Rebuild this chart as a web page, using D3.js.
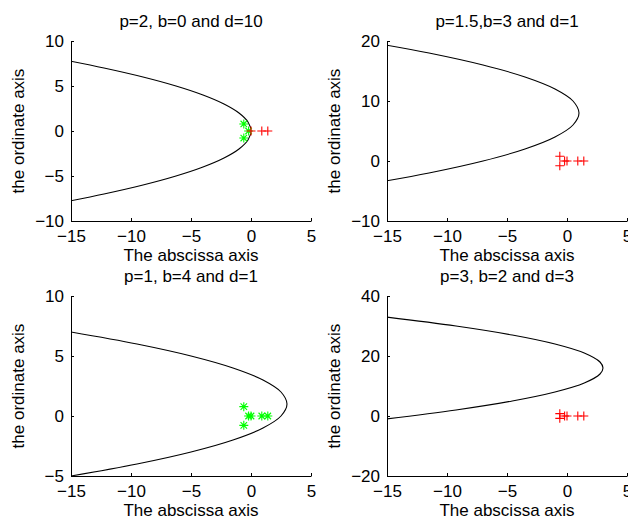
<!DOCTYPE html>
<html>
<head>
<meta charset="utf-8">
<script src="https://cdn.jsdelivr.net/npm/d3@7"></script>
<style>
  html, body { margin: 0; padding: 0; background: #fff; }
  svg { display: block; }
  text { font-family: "Liberation Sans", Arial, Helvetica, sans-serif; fill: #000; }
</style>
</head>
<body>
<svg id="chart" width="628" height="523"></svg>
<script>
// Panel titles
const titles = ["p=2, b=0 and d=10", "p=1.5,b=3 and d=1", "p=1, b=4 and d=1", "p=3, b=2 and d=3"];

// Axis limits and tick values per panel
const xDomain = [-15, 5];
const xTicks = [-15, -10, -5, 0, 5];
const yDomains = [[-10, 10], [-10, 20], [-5, 10], [-20, 40]];
const yTicks = [[-10, -5, 0, 5, 10], [-10, 0, 10, 20], [-5, 0, 5, 10], [-20, 0, 20, 40]];

// Boundary curve of each panel, as (x, y) points ordered along the curve
const curveX1 = [-15, -12.25, -9, -6.25, -4, -2.25, -1, -0.25, 0, -0.25, -1, -2.25, -4, -6.25, -9, -12.25, -15];
const curveY1 = [7.75, 7, 6, 5, 4, 3, 2, 1, 0, -1, -2, -3, -4, -5, -6, -7, -7.75];
const curveX2 = [-15, -11.5, -7, -3.5, -1, 0.5, 1, 0.5, -1, -3.5, -7, -11.5, -15];
const curveY2 = [19.3, 18, 16, 14, 12, 10, 8, 6, 4, 2, 0, -2, -3.3];
const curveX3 = [-15, -9.5, -5, -1.5, 1, 2.5, 3, 2.5, 1, -1.5, -5, -9.5, -15];
const curveY3 = [7, 6, 5, 4, 3, 2, 1, 0, -1, -2, -3, -4, -5];
const curveX4 = [-15.06, -9.25, -4.56, -1, 1.44, 2.75, 3, 2.75, 1.44, -1, -4.56, -9.25, -15.06];
const curveY4 = [33, 30, 27, 24, 21, 18, 16, 14, 11, 8, 5, 2, -1];
const curvesX = [curveX1, curveX2, curveX3, curveX4];
const curvesY = [curveY1, curveY2, curveY3, curveY4];

// Points plotted in every panel
const ptX = [-0.6, -0.6, -0.2, 0, 0.9, 1.4];
const ptY = [0.78, -0.78, 0, 0, 0, 0];
// Marker kind for each point, per panel: "star" (green) or "plus" (red)
const kinds1 = ["star", "star", "star", "plus", "plus", "plus"];
const kinds2 = ["plus", "plus", "plus", "plus", "plus", "plus"];
const kinds3 = ["star", "star", "star", "star", "star", "star"];
const kinds4 = ["plus", "plus", "plus", "plus", "plus", "plus"];
const kinds = [kinds1, kinds2, kinds3, kinds4];

const xLabel = "The abscissa axis";
const yLabel = "the ordinate axis";

// Layout
const panelW = 240, panelH = 180;
const lefts = [71, 387, 71, 387];
const tops = [41, 41, 296, 296];
const tickLen = 3;
const fontSize = 17;

const svg = d3.select("#chart");

function minus(v) { return v < 0 ? "\u2212" + Math.abs(v) : String(v); }

for (let i = 0; i < 4; i++) {
  const g = svg.append("g").attr("transform", `translate(${lefts[i]},${tops[i]})`);
  const x = d3.scaleLinear().domain(xDomain).range([0, panelW]);
  const y = d3.scaleLinear().domain(yDomains[i]).range([panelH, 0]);

  const clipId = "clip" + i;
  g.append("clipPath").attr("id", clipId)
    .append("rect").attr("x", 0).attr("y", 0).attr("width", panelW).attr("height", panelH);

  // x axis (ticks pointing inward)
  const xa = g.append("g").attr("transform", `translate(0,${panelH})`)
    .call(d3.axisBottom(x).tickValues(xTicks).tickSizeInner(-tickLen).tickSizeOuter(0).tickFormat(minus));
  // y axis (ticks pointing inward)
  const ya = g.append("g")
    .call(d3.axisLeft(y).tickValues(yTicks[i]).tickSizeInner(-tickLen).tickSizeOuter(0).tickFormat(minus));
  [xa, ya].forEach(a => {
    a.selectAll("text").style("font-size", fontSize + "px").style("font-family", '"Liberation Sans", Arial, sans-serif').attr("fill", "#000");
    a.selectAll("line").attr("stroke", "#000");
    a.select(".domain").attr("stroke", "#000");
  });
  xa.selectAll("text").attr("y", 9).attr("dy", "0.71em");
  ya.selectAll("text").attr("x", -7).attr("dy", "0.34em");

  // boundary curve
  const pts = curvesX[i].map((cx, k) => [cx, curvesY[i][k]]);
  g.append("path")
    .attr("clip-path", `url(#${clipId})`)
    .attr("d", d3.line().x(d => x(d[0])).y(d => y(d[1])).curve(d3.curveCatmullRom.alpha(0.5))(pts))
    .attr("fill", "none").attr("stroke", "#000").attr("stroke-width", 1.1);

  // point markers
  const mg = g.append("g");
  ptX.forEach((px, k) => {
    const cx = x(px), cy = y(ptY[k]);
    const kind = kinds[i][k];
    const r = 4.5;
    if (kind === "plus") {
      mg.append("path")
        .attr("d", `M${cx - r},${cy}H${cx + r}M${cx},${cy - r}V${cy + r}`)
        .attr("stroke", "#ff0000").attr("stroke-width", 1.1).attr("fill", "none");
    } else {
      const s = r * 0.72;
      mg.append("path")
        .attr("d", `M${cx - r},${cy}H${cx + r}M${cx},${cy - r}V${cy + r}M${cx - s},${cy - s}L${cx + s},${cy + s}M${cx - s},${cy + s}L${cx + s},${cy - s}`)
        .attr("stroke", "#00ff00").attr("stroke-width", 1.1).attr("fill", "none");
    }
  });

  // title
  g.append("text").attr("x", panelW / 2).attr("y", -14)
    .attr("text-anchor", "middle").style("font-size", fontSize + "px").text(titles[i]);
  // x label
  g.append("text").attr("x", panelW / 2).attr("y", panelH + 40)
    .attr("text-anchor", "middle").style("font-size", fontSize + "px").text(xLabel);
  // y label
  g.append("text")
    .attr("transform", `translate(${-47},${panelH / 2}) rotate(-90)`)
    .attr("text-anchor", "middle").style("font-size", fontSize + "px").text(yLabel);
}
</script>
</body>
</html>
